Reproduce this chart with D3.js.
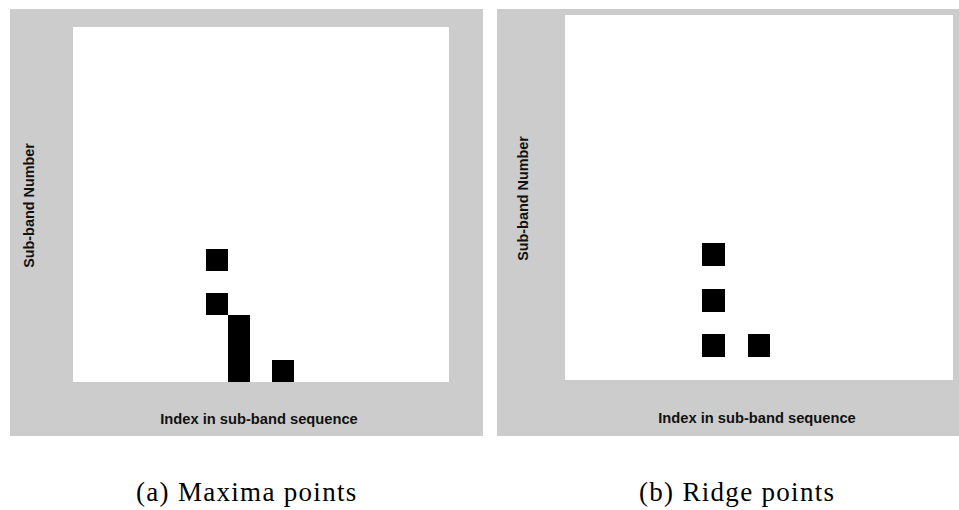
<!DOCTYPE html>
<html>
<head>
<meta charset="utf-8">
<script src="https://cdn.jsdelivr.net/npm/d3@7"></script>
<style>
  html, body { margin: 0; padding: 0; background: #ffffff; }
  svg { display: block; }
</style>
</head>
<body>
<svg id="chart" width="959" height="510"></svg>
<script>
// Grid size of each sub-band map: index positions (columns) and sub-band numbers (rows)
const indexCount = 17;
const bandCount = 16;

// (a) maxima points: index in sequence and sub-band number of each marked cell
const maximaIndex = [6, 6, 7, 7, 7, 9];
const maximaBand  = [5, 3, 2, 1, 0, 0];

// (b) ridge points
const ridgeIndex = [6, 6, 6, 8];
const ridgeBand  = [5, 3, 1, 1];

const xLabel = "Index in sub-band sequence";
const yLabel = "Sub-band Number";
const captions = ["(a) Maxima points", "(b) Ridge points"];

const svg = d3.select("#chart");

const panels = [
  {
    frame: { x0: 10, x1: 483, y0: 9, y1: 436 },
    plot:  { x0: 73, x1: 449, y0: 27, y1: 382 },
    xLabelPos: [259, 424], yLabelPos: [34, 205.5],
    caption: captions[0], captionX: 136,
    idx: maximaIndex, band: maximaBand
  },
  {
    frame: { x0: 497, x1: 959, y0: 9, y1: 436 },
    plot:  { x0: 565, x1: 953, y0: 15, y1: 380 },
    xLabelPos: [757, 423], yLabelPos: [528, 198.5],
    caption: captions[1], captionX: 639,
    idx: ridgeIndex, band: ridgeBand
  }
];

panels.forEach(p => {
  const g = svg.append("g");

  // grey figure window
  g.append("rect")
    .attr("x", p.frame.x0).attr("y", p.frame.y0)
    .attr("width", p.frame.x1 - p.frame.x0)
    .attr("height", p.frame.y1 - p.frame.y0)
    .attr("fill", "#cccccc");

  // white plotting area
  g.append("rect")
    .attr("x", p.plot.x0).attr("y", p.plot.y0)
    .attr("width", p.plot.x1 - p.plot.x0)
    .attr("height", p.plot.y1 - p.plot.y0)
    .attr("fill", "#ffffff");

  const x = d3.scaleBand()
    .domain(d3.range(indexCount))
    .range([p.plot.x0, p.plot.x1])
    .padding(0);
  // sub-band 0 sits at the bottom of the plot
  const y = d3.scaleBand()
    .domain(d3.range(bandCount))
    .range([p.plot.y1, p.plot.y0])
    .padding(0);

  const cells = p.idx.map((v, i) => ({ index: v, band: p.band[i] }));

  g.selectAll("rect.cell")
    .data(cells)
    .join("rect")
    .attr("class", "cell")
    .attr("x", d => x(d.index))
    .attr("y", d => y(d.band))
    .attr("width", x.bandwidth())
    .attr("height", y.bandwidth())
    .attr("fill", "#000000")
    .attr("shape-rendering", "crispEdges");

  // axis titles
  g.append("text")
    .attr("x", p.xLabelPos[0]).attr("y", p.xLabelPos[1])
    .attr("text-anchor", "middle")
    .attr("font-family", "Liberation Sans, Arial, sans-serif")
    .attr("font-weight", "bold")
    .attr("font-size", 14.7)
    .attr("fill", "#111111")
    .text(xLabel);

  g.append("text")
    .attr("transform", `translate(${p.yLabelPos[0]},${p.yLabelPos[1]}) rotate(-90)`)
    .attr("text-anchor", "middle")
    .attr("font-family", "Liberation Sans, Arial, sans-serif")
    .attr("font-weight", "bold")
    .attr("font-size", 14.4)
    .attr("fill", "#111111")
    .text(yLabel);

  // sub-figure caption
  g.append("text")
    .attr("x", p.captionX).attr("y", 501)
    .attr("text-anchor", "start")
    .attr("font-family", "Liberation Serif, Times New Roman, serif")
    .attr("font-size", 27)
    .attr("letter-spacing", 1.3)
    .attr("fill", "#000000")
    .text(p.caption);
});
</script>
</body>
</html>
